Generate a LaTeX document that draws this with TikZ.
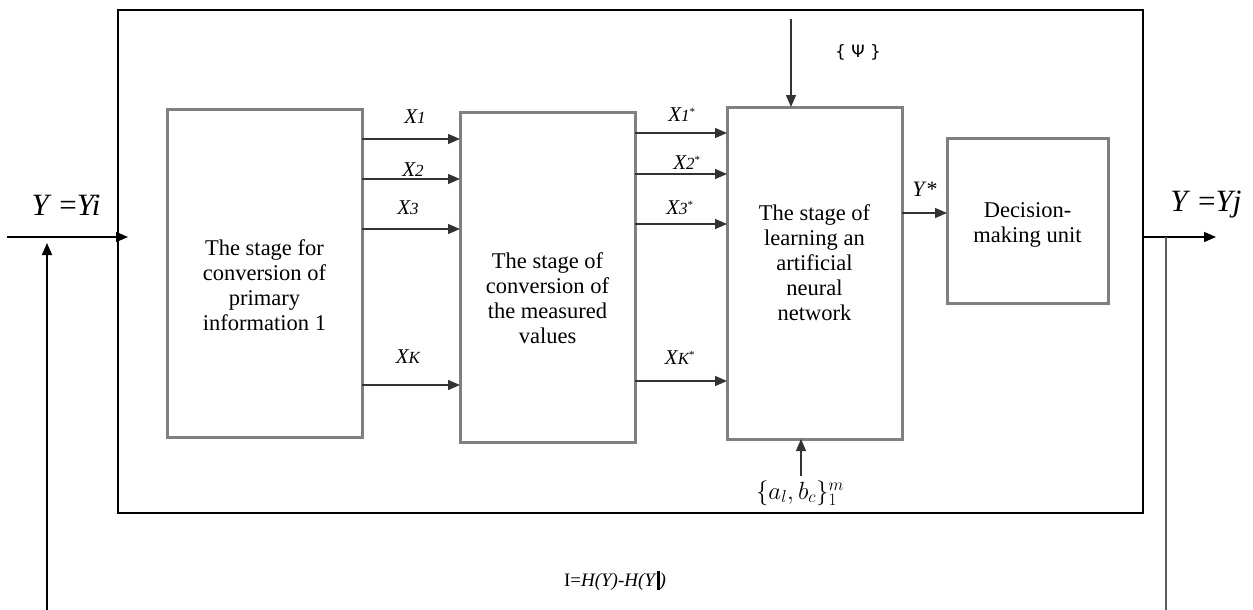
\documentclass[tikz,border=0pt]{standalone}
\usepackage{fontspec}
\setmainfont{Liberation Serif}
\newfontfamily\psifont{DejaVu Sans}
\usetikzlibrary{arrows.meta}
\definecolor{boxgray}{HTML}{808080}
\definecolor{linegray}{HTML}{333333}
\tikzset{
  stagebox/.style={draw=boxgray, line width=3pt, inner sep=0pt, outer sep=0pt},
  boxtext/.style={align=center, inner sep=0pt, font=\fontsize{22.5}{25}\selectfont},
  arr/.style={draw=linegray, line width=1.3pt, -{Triangle[length=12pt,width=10pt]}},
  plain/.style={line width=1.8pt},
  xlab/.style={inner sep=0pt},
}
\newcommand{\xl}[1]{{\fontsize{21}{21}\selectfont\itshape X\fontsize{17}{17}\selectfont #1}}
\newcommand{\xls}[1]{{\fontsize{21}{21}\selectfont\itshape X\fontsize{17}{17}\selectfont #1\textsuperscript{\upshape\fontsize{11}{11}\selectfont *}}}
\begin{document}
\begin{tikzpicture}[x=1pt,y=-1pt]
\useasboundingbox (0,0) rectangle (1253,610);
% outer frame
\node[draw=black, line width=1.3pt, minimum width=1025pt, minimum height=503pt, inner sep=0pt, outer sep=0pt] (outer) at (630.5,261.5) {};
% stage boxes
\node[stagebox, minimum width=195pt, minimum height=328pt] (b1) at (264.5,273) {};
\node[stagebox, minimum width=175pt, minimum height=330pt] (b2) at (547.5,277) {};
\node[stagebox, minimum width=175pt, minimum height=332pt] (b3) at (814.5,273) {};
\node[stagebox, minimum width=161pt, minimum height=165pt] (b4) at (1027.5,220.5) {};
% box texts
\node[boxtext] (t1) at (264.5,285) {The stage for\\conversion of\\primary\\information 1};
\node[boxtext] (t2) at (547.5,298.5) {The stage of\\conversion of\\the measured\\values};
\node[boxtext] (t3) at (814.5,262.5) {The stage of\\learning an\\artificial\\neural\\network};
\node[boxtext] (t4) at (1027.5,225) {Decision-\\making unit};
% arrows b1 -> b2
\foreach \yy in {139,179,229,385} {
  \draw[arr] (b1.east |- 0,\yy) -- (b2.west |- 0,\yy);
}
% arrows b2 -> b3
\foreach \yy in {133,174,224,381} {
  \draw[arr] (b2.east |- 0,\yy) -- (b3.west |- 0,\yy);
}
% b3 -> b4
\draw[arr] (b3.east |- 0,213) -- (b4.west |- 0,213);
% labels X
\node[xlab] (x1) at (415,117) {\xl{1}};
\node[xlab] (x2) at (413,170) {\xl{2}};
\node[xlab] (x3) at (408,208) {\xl{3}};
\node[xlab] (xk) at (408,357) {\xl{K}};
\node[xlab] (x1s) at (682,115) {\xls{1}};
\node[xlab] (x2s) at (687,163) {\xls{2}};
\node[xlab] (x3s) at (680,208) {\xls{3}};
\node[xlab] (xks) at (680,358) {\xls{K}};
\node[xlab] (ys) at (925,189) {\fontsize{22}{22}\selectfont\textit{Y}*};
% psi input
\coordinate (psi) at (791,19);
\draw[arr] (psi) -- (psi |- b3.north);
\node[xlab] (psil) at (858,52) {\psifont\fontsize{17}{17}\selectfont\{ Ψ \}};
% bottom input
\coordinate (ab) at (801,476);
\draw[arr] (ab) -- (ab |- b3.south);
\node[xlab] (abl) at (800,493) {\fontsize{23}{23}\selectfont$\{a_l,b_c\}_1^m$};
% main input
\coordinate (inL) at (7,237);
\coordinate (inR) at (128,237);
\draw[arr, draw=black] (inL) -- (inR);
\node[xlab] (yi) at (66,205) {\fontsize{31}{31}\selectfont\textit{Y} =\textit{Yi}};
% feedback left
\coordinate (fbL) at (47,610);
\coordinate (fbLt) at (47,243);
\draw[arr, draw=black, line width=1.8pt] (fbL) -- (fbLt);
% output right
\coordinate (outR) at (1216,237);
\draw[arr, draw=black] (outer.east |- outR) -- (outR);
\coordinate (fbR) at (1166,237);
\coordinate (fbRb) at (1166,610);
\draw[plain, draw=linegray!80!white] (fbR) -- (fbRb);
\node[xlab] (yj) at (1206,205) {\fontsize{31}{31}\selectfont\textit{Y} =\textit{Yj}};
% formula
\node[xlab] (form) at (615,581) {\fontsize{19}{19}\selectfont I=\textit{H(Y)-H(Y}\rule[-3pt]{3pt}{19pt}\textit{)}};
\end{tikzpicture}
\end{document}
